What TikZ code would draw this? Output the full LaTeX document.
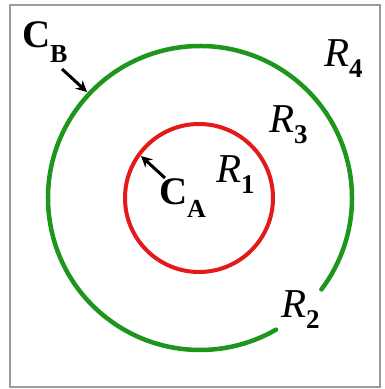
\documentclass[tikz,border=0pt]{standalone}
\usepackage{fontspec}
\setmainfont{Liberation Serif}
\usetikzlibrary{arrows.meta}
\definecolor{cgreen}{RGB}{30,150,30}
\definecolor{cred}{RGB}{228,25,25}
\definecolor{framegray}{RGB}{155,155,155}
\newcommand{\Rlab}[1]{{\fontsize{41}{41}\selectfont\itshape R}\raisebox{-11pt}{\fontsize{27}{27}\selectfont\bfseries #1}}
\newcommand{\Clab}[2]{{\fontsize{39}{39}\selectfont\bfseries C}\raisebox{#2}{\fontsize{26}{26}\selectfont\bfseries #1}}
\begin{document}
\begin{tikzpicture}[x=1pt,y=1pt,
  lab/.style={inner sep=0pt, outer sep=0pt, anchor=base west},
  pointer/.style={line width=3pt, -{Stealth[length=11pt,width=11pt]}}]
\useasboundingbox (0,0) rectangle (385,389);
\draw[framegray, line width=1.5pt] (10,2) rectangle (380,384);
% curves
\draw[cred, line width=4pt] (199,191) circle[radius=74];
\draw[cgreen, line width=4.5pt, line cap=round] (200,191) ++(-37:152) arc[start angle=-37, end angle=300, radius=152];
% labels
\node[lab] (r1) at (216,206) {\Rlab{1}};
\node[lab] (r2) at (281,71) {\Rlab{2}};
\node[lab] (r3) at (269,256) {\Rlab{3}};
\node[lab] (r4) at (324,322) {\Rlab{4}};
\node[lab] (cb) at (22,341) {\Clab{B}{-15pt}};
\node[lab] (ca) at (159,184) {\Clab{A}{-13pt}};
% pointers
\coordinate (cbtail) at (62,320);
\coordinate (cbhead) at (87,297);
\coordinate (catail) at (165,211);
\coordinate (cahead) at (141,233);
\draw[pointer] (cbtail) -- (cbhead);
\draw[pointer] (catail) -- (cahead);
\end{tikzpicture}
\end{document}
